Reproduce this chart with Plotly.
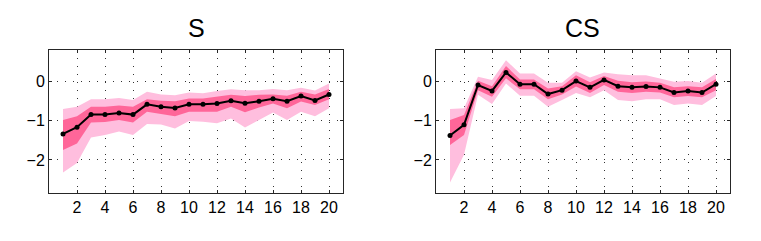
import plotly.graph_objects as go

horizons = list(range(1, 21))

s_median = [-1.34, -1.17, -0.85, -0.85, -0.81, -0.85, -0.59, -0.65, -0.68, -0.59,
            -0.59, -0.57, -0.50, -0.56, -0.51, -0.45, -0.51, -0.38, -0.49, -0.34]
s_inner_hi = [-0.99, -0.89, -0.65, -0.65, -0.62, -0.65, -0.46, -0.50, -0.51, -0.44,
              -0.44, -0.40, -0.35, -0.38, -0.35, -0.34, -0.37, -0.27, -0.34, -0.20]
s_inner_lo = [-1.75, -1.58, -1.05, -1.04, -0.99, -1.05, -0.78, -0.84, -0.89, -0.78,
              -0.78, -0.78, -0.65, -0.79, -0.67, -0.57, -0.69, -0.52, -0.61, -0.46]
s_outer_hi = [-0.71, -0.65, -0.46, -0.46, -0.43, -0.48, -0.27, -0.34, -0.36, -0.29,
              -0.31, -0.25, -0.21, -0.23, -0.23, -0.20, -0.23, -0.17, -0.24, -0.06]
s_outer_lo = [-2.32, -2.08, -1.43, -1.37, -1.28, -1.37, -1.09, -1.10, -1.20, -1.01,
              -1.03, -1.07, -0.95, -1.18, -0.99, -0.80, -0.99, -0.78, -0.89, -0.69]

cs_median = [-1.38, -1.11, -0.10, -0.25, 0.22, -0.08, -0.08, -0.33, -0.23, 0.00,
             -0.16, 0.03, -0.13, -0.16, -0.14, -0.16, -0.29, -0.25, -0.29, -0.08]
cs_inner_hi = [-0.99, -0.86, 0.01, -0.13, 0.38, 0.04, 0.04, -0.19, -0.13, 0.15,
               -0.03, 0.13, 0.01, -0.03, -0.01, -0.04, -0.16, -0.13, -0.16, 0.05]
cs_inner_lo = [-1.62, -1.37, -0.23, -0.40, 0.07, -0.21, -0.21, -0.46, -0.34, -0.14,
               -0.30, -0.10, -0.27, -0.30, -0.27, -0.29, -0.41, -0.38, -0.41, -0.23]
cs_outer_hi = [-0.71, -0.69, 0.11, 0.03, 0.53, 0.19, 0.19, -0.04, -0.04, 0.25,
               0.09, 0.22, 0.17, 0.15, 0.15, 0.07, -0.02, 0.00, -0.04, 0.19]
cs_outer_lo = [-2.57, -1.87, -0.35, -0.58, -0.06, -0.37, -0.37, -0.65, -0.48, -0.30,
               -0.41, -0.23, -0.48, -0.51, -0.46, -0.46, -0.61, -0.57, -0.61, -0.38]

titles = ["S", "CS"]
x_ticks = [2, 4, 6, 8, 10, 12, 14, 16, 18, 20]
y_ticks = [0, -1, -2]
y_ticktext = ["0", "\u22121", "\u22122"]

LIGHT = "rgb(255,190,222)"
DARK = "rgb(255,102,153)"
FONT = "Liberation Sans, Arial, sans-serif"

# figure is placed inside the page's 8px body margin
W, H, OFF = 745, 225, 8


def fx(px):
    return (px - OFF) / W


def fy(py):
    return 1 - (py - OFF) / H


fig = go.Figure()

panels = [
    (s_median, s_inner_hi, s_inner_lo, s_outer_hi, s_outer_lo),
    (cs_median, cs_inner_hi, cs_inner_lo, cs_outer_hi, cs_outer_lo),
]

for i, (med, ihi, ilo, ohi, olo) in enumerate(panels):
    xa = "x" if i == 0 else "x2"
    ya = "y" if i == 0 else "y2"
    xpoly = horizons + horizons[::-1]
    fig.add_trace(go.Scatter(x=xpoly, y=ohi + olo[::-1], fill="toself",
                             fillcolor=LIGHT, line=dict(width=0), mode="lines",
                             hoverinfo="skip", showlegend=False, xaxis=xa, yaxis=ya))
    fig.add_trace(go.Scatter(x=xpoly, y=ihi + ilo[::-1], fill="toself",
                             fillcolor=DARK, line=dict(width=0), mode="lines",
                             hoverinfo="skip", showlegend=False, xaxis=xa, yaxis=ya))
    fig.add_trace(go.Scatter(x=horizons, y=med, mode="lines+markers",
                             line=dict(color="black", width=2),
                             marker=dict(color="black", size=5),
                             showlegend=False, xaxis=xa, yaxis=ya))

axis_common = dict(
    showline=True, linecolor="#262626", linewidth=1, mirror="ticks",
    ticks="inside", ticklen=3, tickcolor="#262626",
    showgrid=True, gridcolor="#333333", gridwidth=1, griddash="1px,7px",
    zeroline=False,
    tickfont=dict(family=FONT, size=16, color="black"),
)

ydom = [fy(192.7), fy(49.5)]

fig.update_layout(
    width=W, height=H,
    margin=dict(l=0, r=0, t=0, b=0),
    paper_bgcolor="white", plot_bgcolor="white",
    xaxis=dict(domain=[fx(49), fx(343)], range=[0, 21], tickvals=x_ticks, anchor="y", **axis_common),
    yaxis=dict(domain=ydom, range=[-2.83, 0.8], tickvals=y_ticks,
               ticktext=y_ticktext, anchor="x", **axis_common),
    xaxis2=dict(domain=[fx(436), fx(730)], range=[0, 21], tickvals=x_ticks, anchor="y2", **axis_common),
    yaxis2=dict(domain=ydom, range=[-2.83, 0.8], tickvals=y_ticks,
                ticktext=y_ticktext, anchor="x2", **axis_common),
    annotations=[
        dict(text=titles[0], x=fx(196), y=fy(28), xref="paper", yref="paper",
             xanchor="center", yanchor="middle",
             showarrow=False, font=dict(family=FONT, size=25, color="black")),
        dict(text=titles[1], x=fx(582), y=fy(28), xref="paper", yref="paper",
             xanchor="center", yanchor="middle",
             showarrow=False, font=dict(family=FONT, size=25, color="black")),
    ],
)

fig.write_html("out.html")
